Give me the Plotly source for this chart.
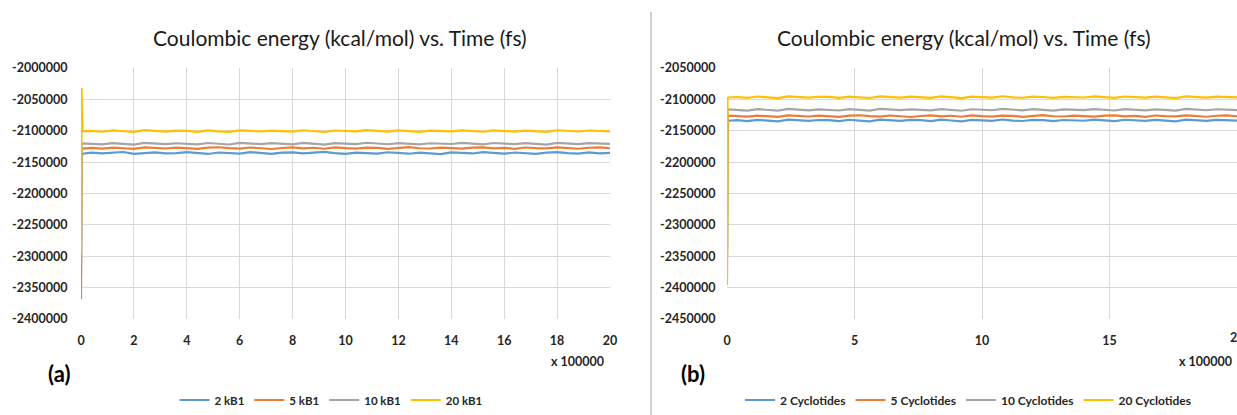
import plotly.graph_objects as go

# ---------------- data ----------------
time = [0, 0.02, 0.06,
        0.4, 0.8, 1.2, 1.6, 2.0, 2.4, 2.8, 3.2, 3.6, 4.0, 4.4, 4.8, 5.2, 5.6, 6.0, 6.4, 6.8,
        7.2, 7.6, 8.0, 8.4, 8.8, 9.2, 9.6, 10.0, 10.4, 10.8, 11.2, 11.6, 12.0, 12.4, 12.8,
        13.2, 13.6, 14.0, 14.4, 14.8, 15.2, 15.6, 16.0, 16.4, 16.8, 17.2, 17.6, 18.0, 18.4,
        18.8, 19.2, 19.6, 20.0]

blue_a = [-2330000, -2142000, -2136500,
          -2134800, -2136200, -2135100, -2133900, -2136700, -2135400, -2134600, -2136100, -2135800, -2134200,
          -2135900, -2137000, -2134700, -2135300, -2136400, -2134100, -2135600, -2136800, -2135000, -2134400,
          -2136000, -2135200, -2133800, -2135700, -2136900, -2134900, -2135500, -2136300, -2134300, -2135100,
          -2136600, -2134800, -2135900, -2137100, -2134500, -2135300, -2136200, -2134000, -2135800, -2136500,
          -2134700, -2135400, -2136800, -2135000, -2134200, -2135700, -2136400, -2134600, -2135900, -2135200]
orange_a = [-2368000, -2131000, -2128500,
            -2127200, -2128600, -2126800, -2127900, -2129000, -2126500, -2127600, -2128300, -2126900, -2127400,
            -2128800, -2127000, -2126300, -2127800, -2128500, -2126700, -2127300, -2129100, -2127500, -2126400,
            -2128000, -2127100, -2128700, -2126600, -2127700, -2128400, -2126900, -2127200, -2128900, -2127600,
            -2126200, -2127900, -2128300, -2126800, -2127400, -2128600, -2127000, -2126500, -2128100, -2127300,
            -2128800, -2126700, -2127800, -2128200, -2126400, -2127500, -2128700, -2127100, -2126600, -2127900]
gray_a = [-2314000, -2123000, -2120000,
          -2120300, -2121800, -2119600, -2120900, -2122000, -2119200, -2120600, -2121400, -2119900, -2120200,
          -2121700, -2119500, -2120800, -2121900, -2119300, -2120500, -2121200, -2119800, -2120100, -2121600,
          -2119400, -2120700, -2122100, -2119700, -2120400, -2121300, -2119100, -2120900, -2121500, -2119600,
          -2120300, -2121800, -2119900, -2120600, -2121100, -2119400, -2120800, -2121700, -2119500, -2120200,
          -2121400, -2119800, -2120700, -2122000, -2119300, -2120500, -2121300, -2119700, -2120900, -2121000]
yellow_a = [-2295000, -2032000, -2101000,
            -2100200, -2101600, -2099400, -2100800, -2101900, -2099100, -2100500, -2101300, -2099800, -2100100,
            -2101700, -2099500, -2100900, -2101800, -2099300, -2100400, -2101200, -2099700, -2100000, -2101500,
            -2099200, -2100600, -2102000, -2099600, -2100300, -2101100, -2099000, -2100800, -2101400, -2099500,
            -2100200, -2101700, -2099900, -2100500, -2101000, -2099300, -2100700, -2101600, -2099400, -2100100,
            -2101300, -2099700, -2100600, -2101900, -2099200, -2100400, -2101200, -2099600, -2100800, -2100900]

blue_b = [-2340000, -2138000, -2134000,
          -2133200, -2134700, -2132600, -2133900, -2135000, -2132300, -2133600, -2134400, -2132900, -2133100,
          -2134800, -2132500, -2133800, -2134900, -2132200, -2133400, -2134300, -2132800, -2133000, -2134600,
          -2132400, -2133700, -2135100, -2132700, -2133300, -2134200, -2132100, -2133900, -2134500, -2132600,
          -2133200, -2134800, -2132900, -2133500, -2134100, -2132300, -2133800, -2134700, -2132500, -2133100,
          -2134400, -2132800, -2133600, -2135000, -2132200, -2133400, -2134300, -2132700, -2133900, -2134000]
orange_b = [-2350000, -2129000, -2126000,
            -2126200, -2127600, -2125800, -2126900, -2128000, -2125500, -2126600, -2127300, -2125900, -2126400,
            -2127800, -2126000, -2125300, -2126800, -2127500, -2125700, -2126300, -2128100, -2126500, -2125400,
            -2127000, -2126100, -2127700, -2125600, -2126700, -2127400, -2125900, -2126200, -2127900, -2126600,
            -2125200, -2126900, -2127300, -2125800, -2126400, -2127600, -2126000, -2125500, -2127100, -2126300,
            -2127800, -2125700, -2126800, -2127200, -2125400, -2126500, -2127700, -2126100, -2125600, -2126900]
gray_b = [-2380000, -2118000, -2116000,
          -2116300, -2117800, -2115600, -2116900, -2118000, -2115200, -2116600, -2117400, -2115900, -2116200,
          -2117700, -2115500, -2116800, -2117900, -2115300, -2116500, -2117200, -2115800, -2116100, -2117600,
          -2115400, -2116700, -2118100, -2115700, -2116400, -2117300, -2115100, -2116900, -2117500, -2115600,
          -2116300, -2117800, -2115900, -2116600, -2117100, -2115400, -2116800, -2117700, -2115500, -2116200,
          -2117400, -2115800, -2116700, -2118000, -2115300, -2116500, -2117300, -2115700, -2116900, -2117000]
yellow_b = [-2396000, -2098000, -2097000,
            -2096200, -2097600, -2095400, -2096800, -2097900, -2095100, -2096500, -2097300, -2095800, -2096100,
            -2097700, -2095500, -2096900, -2097800, -2095300, -2096400, -2097200, -2095700, -2096000, -2097500,
            -2095200, -2096600, -2098000, -2095600, -2096300, -2097100, -2095000, -2096800, -2097400, -2095500,
            -2096200, -2097700, -2095900, -2096500, -2097000, -2095300, -2096700, -2097600, -2095400, -2096100,
            -2097300, -2095700, -2096600, -2097900, -2095200, -2096400, -2097200, -2095600, -2096800, -2096900]

names_a = ["2 kB1", "5 kB1", "10 kB1", "20 kB1"]
names_b = ["2 Cyclotides", "5 Cyclotides", "10 Cyclotides", "20 Cyclotides"]
colors = ["#5B9BD5", "#ED7D31", "#A5A5A5", "#FFC000"]

yticks_a = [-2000000, -2050000, -2100000, -2150000, -2200000, -2250000, -2300000, -2350000, -2400000]
yticks_b = [-2050000, -2100000, -2150000, -2200000, -2250000, -2300000, -2350000, -2400000, -2450000]
xticks_a = [0, 2, 4, 6, 8, 10, 12, 14, 16, 18, 20]
xticks_b = [0, 5, 10, 15, 20]

title_text = "Coulombic energy (kcal/mol) vs. Time (fs)"

# ---------------- figure ----------------
W, H = 1237, 415
FONT = "Lato, 'Open Sans', sans-serif"
TXT = "#262626"

fig = go.Figure()
for name, ys, c in zip(names_a, [blue_a, orange_a, gray_a, yellow_a], colors):
    fig.add_trace(go.Scatter(x=time, y=ys, mode="lines", name=name,
                             line=dict(color=c, width=2.2), xaxis="x", yaxis="y",
                             legend="legend"))
for name, ys, c in zip(names_b, [blue_b, orange_b, gray_b, yellow_b], colors):
    fig.add_trace(go.Scatter(x=time, y=ys, mode="lines", name=name,
                             line=dict(color=c, width=2.2), xaxis="x2", yaxis="y2",
                             legend="legend2"))

def px_x(p):
    return p / W

def px_y(p):
    return 1 - p / H

tickfont = dict(family=FONT, size=12.5, color=TXT, weight="bold")
axis_common = dict(showgrid=True, gridcolor="#d9d9d9", gridwidth=1, zeroline=False,
                   showline=False, ticks="outside", tickcolor="rgba(0,0,0,0)",
                   tickfont=tickfont, automargin=False)

fig.update_layout(
    width=W, height=H,
    margin=dict(l=0, r=0, t=0, b=0),
    paper_bgcolor="white", plot_bgcolor="white",
    font=dict(family=FONT, color=TXT),
    xaxis=dict(domain=[px_x(81), px_x(610)], range=[0, 20], anchor="y", ticklen=10,
               tickvals=xticks_a, ticktext=[str(v) for v in xticks_a], **axis_common),
    yaxis=dict(domain=[px_y(319), px_y(68)], range=[-2400000, -2000000], anchor="x", ticklen=10,
               tickvals=yticks_a, ticktext=[str(v) for v in yticks_a], **axis_common),
    xaxis2=dict(domain=[px_x(727), 1.0], range=[0, 20], anchor="y2", ticklen=10,
                tickvals=xticks_b, ticktext=[str(v) for v in xticks_b], **axis_common),
    yaxis2=dict(domain=[px_y(319), px_y(68)], range=[-2450000, -2050000], anchor="x2", ticklen=8,
                tickvals=yticks_b, ticktext=[str(v) for v in yticks_b], **axis_common),
    legend=dict(orientation="h", x=px_x(331), xanchor="center", y=px_y(400), yanchor="middle",
                font=dict(family=FONT, size=11.5, color=TXT, weight="bold"),
                itemwidth=30, tracegroupgap=0, bgcolor="rgba(0,0,0,0)"),
    legend2=dict(orientation="h", x=px_x(968), xanchor="center", y=px_y(400), yanchor="middle",
                 font=dict(family=FONT, size=12, color=TXT, weight="bold"),
                 itemwidth=30, tracegroupgap=0, bgcolor="rgba(0,0,0,0)"),
    showlegend=True,
)

annots = [
    dict(text=title_text, x=px_x(340), y=px_y(38), xanchor="center",
         font=dict(family=FONT, size=21, color="#1a1a1a")),
    dict(text=title_text, x=px_x(964), y=px_y(38), xanchor="center",
         font=dict(family=FONT, size=21, color="#1a1a1a")),
    dict(text="x 100000", x=px_x(606), y=px_y(361), xanchor="right",
         font=dict(family=FONT, size=12.5, color=TXT, weight="bold")),
    dict(text="x 100000", x=px_x(1234), y=px_y(361), xanchor="right",
         font=dict(family=FONT, size=12.5, color=TXT, weight="bold")),
    dict(text="(a)", x=px_x(59), y=px_y(373), xanchor="center",
         font=dict(family=FONT, size=22, color="#000000", weight="bold")),
    dict(text="(b)", x=px_x(693), y=px_y(373), xanchor="center",
         font=dict(family=FONT, size=22, color="#000000", weight="bold")),
    # last x tick label of panel (b), partly beyond the window edge as in the reference
    dict(text=str(xticks_b[-1]), x=1.0, y=px_y(337), xanchor="center",
         font=dict(family=FONT, size=12.5, color=TXT, weight="bold")),
]
for a in annots:
    fig.add_annotation(xref="paper", yref="paper", showarrow=False,
                       yanchor="middle", **a)

fig.add_shape(type="line", xref="paper", yref="paper",
              x0=px_x(651), x1=px_x(651), y0=0, y1=px_y(12),
              line=dict(color="#d0d0d0", width=2))

fig.write_html("out.html", config={"displayModeBar": False},
               post_script="document.body.style.margin='0';document.body.style.overflow='hidden';")
